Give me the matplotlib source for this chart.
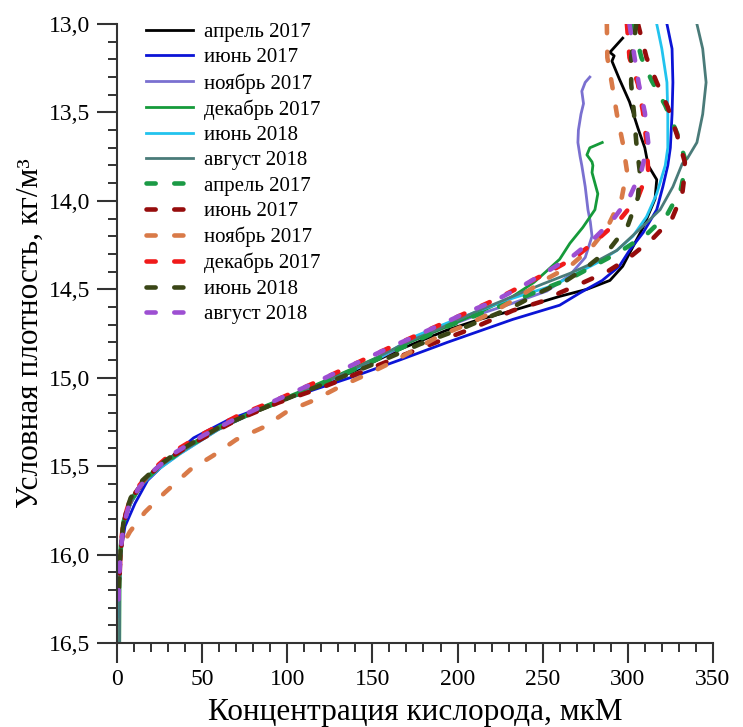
import matplotlib
matplotlib.use("Agg")
import matplotlib.pyplot as plt
from matplotlib.ticker import MultipleLocator, FuncFormatter

plt.rcParams['font.family'] = ['Liberation Serif', 'DejaVu Serif']
plt.rcParams['lines.scale_dashes'] = False

# ---------------- data (x = O2, µM ; y = conditional density, kg/m3) -------------
labels = ["апрель 2017", "июнь 2017", "ноябрь 2017", "декабрь 2017", "июнь 2018", "август 2018",
          "апрель 2017", "июнь 2017", "ноябрь 2017", "декабрь 2017", "июнь 2018", "август 2018"]

apr17_x = [297, 289.5, 292, 290.7, 295, 301, 306, 310, 312, 317, 316, 309, 303, 297, 289.5, 276, 260,
           232.5, 213, 194, 166, 140, 115, 90, 65, 40, 25, 16, 9, 4, 2.5, 1.5, 1.2]
apr17_y = [13.08, 13.16, 13.18, 13.21, 13.31, 13.44, 13.59, 13.70, 13.80, 13.88, 13.99, 14.15, 14.26,
           14.37, 14.45, 14.50, 14.54, 14.62, 14.67, 14.73, 14.84, 14.96, 15.06, 15.16, 15.26, 15.40,
           15.50, 15.58, 15.69, 15.80, 15.93, 16.15, 16.35]

jun17_x = [323, 326, 326.5, 326, 325, 323.5, 320.6, 317, 309, 301, 295, 285, 272, 260, 232.5, 194, 166,
           140, 115, 90, 65, 45, 34, 18, 10.6, 4.7, 2.5, 1.5, 1.2]
jun17_y = [13.0, 13.14, 13.33, 13.51, 13.70, 13.80, 13.92, 14.05, 14.18, 14.28, 14.37, 14.45, 14.52,
           14.59, 14.67, 14.80, 14.90, 14.99, 15.07, 15.15, 15.24, 15.34, 15.43, 15.58, 15.71, 15.84,
           15.97, 16.15, 16.35]

nov17_x = [277.7, 275, 273, 274, 272.5, 271, 270.7, 272, 273, 275, 276.6, 278, 279, 275, 266, 252.5,
           232, 213, 194, 174, 154, 131, 107, 84, 60, 37, 24, 15, 8.5, 4, 2.3, 1.5, 1.2]
nov17_y = [13.30, 13.33, 13.38, 13.45, 13.51, 13.60, 13.67, 13.75, 13.80, 13.92, 14.05, 14.12, 14.20,
           14.32, 14.42, 14.51, 14.58, 14.64, 14.71, 14.79, 14.89, 14.99, 15.09, 15.18, 15.29, 15.43,
           15.52, 15.60, 15.70, 15.82, 15.95, 16.15, 16.35]

dec17_x = [285, 277.7, 276, 279, 279.5, 279, 282.4, 280.7, 273.6, 266, 260, 252, 245, 232.5, 213, 194,
           174, 154, 131, 107, 84, 60, 37, 24, 15, 8, 4, 2.3, 1.8, 1.6]
dec17_y = [13.67, 13.70, 13.74, 13.78, 13.80, 13.84, 13.96, 14.05, 14.15, 14.24, 14.33, 14.40, 14.46,
           14.54, 14.63, 14.71, 14.79, 14.88, 14.98, 15.08, 15.17, 15.28, 15.42, 15.51, 15.60, 15.70,
           15.82, 15.95, 16.15, 16.5]

jun18_x = [317, 320, 323, 323.5, 323.5, 322, 317, 311, 303, 293.6, 282, 270, 260, 252.5, 232.5, 213,
           194, 174, 154, 131, 107, 84, 60, 37, 24, 15, 8.5, 4, 2.3, 1.5, 1.2]
jun18_y = [13.0, 13.14, 13.33, 13.51, 13.70, 13.80, 13.96, 14.09, 14.20, 14.28, 14.35, 14.41, 14.46,
           14.49, 14.55, 14.62, 14.69, 14.77, 14.89, 14.99, 15.09, 15.18, 15.29, 15.43, 15.52, 15.60,
           15.70, 15.82, 15.95, 16.15, 16.35]

aug18_x = [340.6, 344, 346, 344, 340.6, 335, 332, 326.5, 319, 307, 293.6, 280, 266, 250, 230, 210, 190,
           170, 150, 128, 105, 82, 58, 36, 24, 15, 8, 3.5, 2, 1.5, 1.5]
aug18_y = [13.0, 13.14, 13.33, 13.51, 13.67, 13.76, 13.79, 13.92, 14.05, 14.16, 14.28, 14.35, 14.41,
           14.47, 14.55, 14.63, 14.72, 14.80, 14.90, 15.00, 15.10, 15.19, 15.30, 15.43, 15.51, 15.60,
           15.71, 15.83, 15.96, 16.15, 16.5]

# dashed series
apr17d_x = [303, 308, 314, 322, 329, 333.5, 333, 331, 323, 311, 295, 279.5, 266, 250, 232, 213, 194,
            174, 154, 131, 107, 84, 60, 37, 24, 15, 8.5, 4, 2.3, 1.5]
apr17d_y = [13.0, 13.19, 13.32, 13.46, 13.62, 13.76, 13.85, 13.94, 14.08, 14.19, 14.29, 14.37, 14.44,
            14.50, 14.57, 14.64, 14.71, 14.80, 14.89, 14.99, 15.09, 15.18, 15.28, 15.42, 15.51, 15.59,
            15.69, 15.81, 15.95, 16.1]

jun17d_x = [306, 311, 317, 323.5, 329, 333.5, 333, 332, 326, 315, 301, 288, 272, 260, 252.5, 232.5, 209,
            190, 166, 143, 119, 95, 70, 45, 28, 18, 10, 5, 3, 1.8, 1.2]
jun17d_y = [13.0, 13.19, 13.33, 13.47, 13.63, 13.78, 13.88, 13.96, 14.10, 14.21, 14.32, 14.40, 14.47,
            14.52, 14.56, 14.62, 14.72, 14.79, 14.88, 14.97, 15.06, 15.14, 15.24, 15.37, 15.47, 15.56,
            15.66, 15.77, 15.90, 16.05, 16.2]

nov17d_x = [287.7, 288, 290.7, 293.6, 297, 299.5, 296.5, 288, 279, 266, 252.5, 236.6, 220.8, 205.5, 190,
            175, 162, 147, 131, 115, 100, 86, 70, 56.5, 43, 28, 16.4, 7.6, 3]
nov17d_y = [13.0, 13.19, 13.34, 13.51, 13.67, 13.83, 13.98, 14.15, 14.26, 14.37, 14.44, 14.54, 14.63,
            14.70, 14.76, 14.84, 14.91, 14.98, 15.05, 15.13, 15.19, 15.28, 15.35, 15.44, 15.52, 15.65,
            15.76, 15.87, 15.95]

dec17d_x = [299.5, 301, 306, 309, 311, 312, 306, 295, 282, 269, 256, 240, 224, 208, 192, 176, 160, 140,
            118, 95, 72, 50, 33, 21, 13, 7, 4, 2.5, 1.5]
dec17d_y = [13.0, 13.19, 13.34, 13.50, 13.67, 13.83, 13.98, 14.11, 14.22, 14.32, 14.39, 14.47, 14.55,
            14.62, 14.69, 14.76, 14.83, 14.92, 15.02, 15.12, 15.21, 15.32, 15.42, 15.52, 15.61, 15.71,
            15.80, 15.92, 16.09]

jun18d_x = [305, 302, 302, 303.6, 305, 307, 306, 300, 289.5, 276.6, 264, 250, 232.5, 205.5, 178, 154,
            131, 107, 84, 60, 37, 24, 15, 8, 4, 2.2, 1.5, 1]
jun18d_y = [13.0, 13.19, 13.34, 13.50, 13.67, 13.83, 13.98, 14.14, 14.27, 14.37, 14.45, 14.51, 14.60,
            14.71, 14.81, 14.91, 15.00, 15.09, 15.18, 15.28, 15.41, 15.50, 15.58, 15.68, 15.80, 15.95,
            16.1, 16.22]

aug18d_x = [301, 304, 306.5, 310, 312, 308, 301, 291, 279.5, 268, 252.5, 236.6, 220.8, 205.5, 190, 174,
            160, 140, 118, 95, 72, 50, 33, 21, 13, 7, 3.5, 2, 1.2, 0.8]
aug18d_y = [13.0, 13.19, 13.34, 13.50, 13.67, 13.83, 13.98, 14.11, 14.22, 14.31, 14.40, 14.49, 14.57,
            14.63, 14.70, 14.77, 14.83, 14.92, 15.02, 15.12, 15.22, 15.33, 15.43, 15.53, 15.62, 15.72,
            15.85, 16.0, 16.15, 16.28]

solid_series = [(apr17_x, apr17_y), (jun17_x, jun17_y), (nov17_x, nov17_y),
                (dec17_x, dec17_y), (jun18_x, jun18_y), (aug18_x, aug18_y)]
dashed_series = [(apr17d_x, apr17d_y), (jun17d_x, jun17d_y), (nov17d_x, nov17d_y),
                 (dec17d_x, dec17d_y), (jun18d_x, jun18d_y), (aug18d_x, aug18d_y)]

solid_colors = ["#000000", "#0b14d6", "#7a70d0", "#159a3a", "#22c3ee", "#4a7b79"]
dashed_colors = ["#1b9a45", "#960c0c", "#d97a48", "#f01a1a", "#3a4616", "#9d4fd2"]

# ---------------- figure ---------------------------------------------------------
fig = plt.figure(figsize=(7.43, 7.27), dpi=100)
ax = fig.add_axes([0.1575, 0.1155, 0.802, 0.8515])

handles = []
for (xs, ys), c, lab in zip(solid_series, solid_colors, labels[:6]):
    h, = ax.plot(xs, ys, color=c, lw=2.0, label=lab, solid_joinstyle='round')
    handles.append(h)
for (xs, ys), c, lab in zip(dashed_series, dashed_colors, labels[6:]):
    h, = ax.plot(xs, ys, color=c, lw=3.3, label=lab, dash_capstyle='round',
                 dashes=(6.6, 13.4))
    handles.append(h)

ax.set_xlim(0, 350)
ax.set_ylim(16.5, 13.0)

ax.spines['top'].set_visible(False)
ax.spines['right'].set_visible(False)
for s in ('left', 'bottom'):
    ax.spines[s].set_color('#333333')
    ax.spines[s].set_linewidth(1.5)

ax.xaxis.set_major_locator(MultipleLocator(50))
ax.xaxis.set_minor_locator(MultipleLocator(10))
ax.yaxis.set_major_locator(MultipleLocator(0.5))
ax.yaxis.set_minor_locator(MultipleLocator(0.1))
ax.yaxis.set_major_formatter(FuncFormatter(lambda v, p: f"{v:.1f}".replace('.', ',')))

ax.tick_params(which='major', direction='out', length=14.4, width=1.5, color='#333333',
               labelsize=17, pad=5)
ax.tick_params(which='minor', direction='out', length=6.5, width=1.4, color='#333333')
ax.tick_params(axis='x', which='major', pad=4)

ax.set_xlabel("Концентрация кислорода, мкМ", fontsize=22.5, labelpad=6)
ax.set_ylabel("Условная плотность, кг/м³", fontsize=22.5, labelpad=3)

ax.legend(handles=handles, loc='upper left', bbox_to_anchor=(0.035, 1.016), frameon=False,
          fontsize=15, handlelength=2.25, handletextpad=0.5, labelspacing=0.275,
          borderaxespad=0.0)

fig.savefig("out.png", dpi=100)
